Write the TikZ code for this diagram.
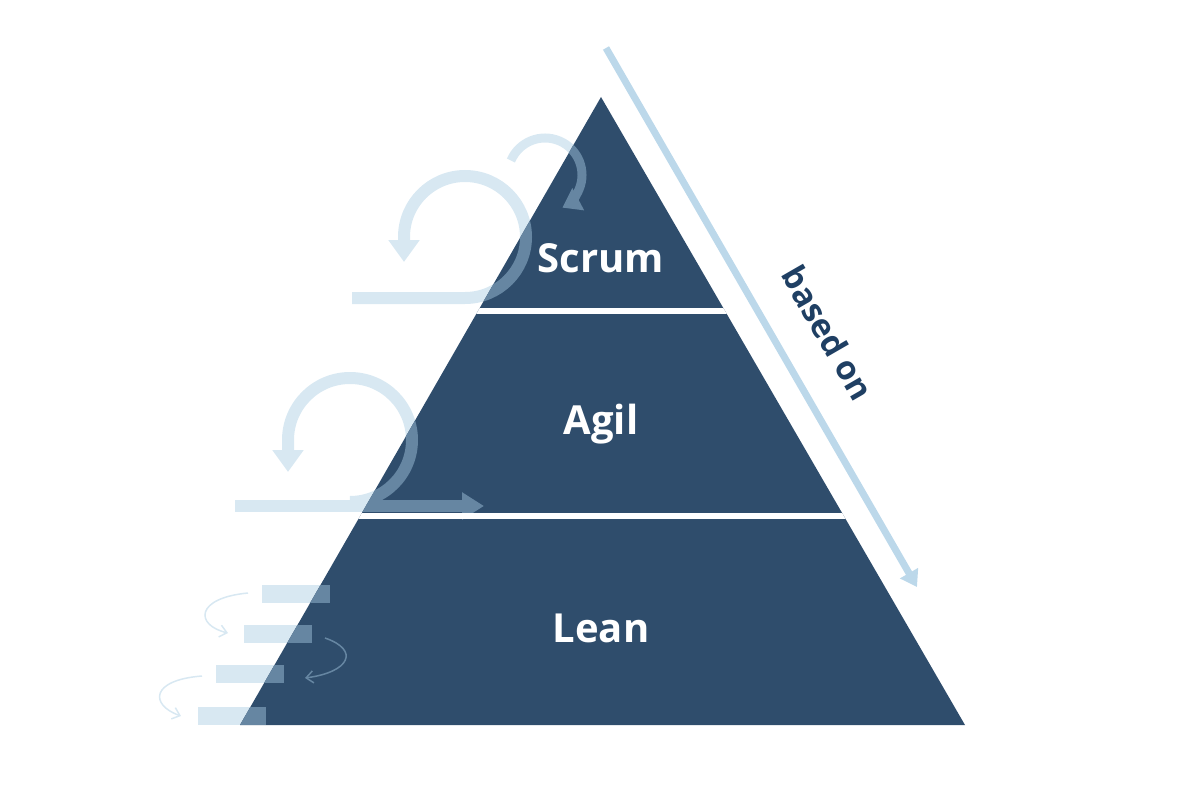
\documentclass[tikz,border=0pt]{standalone}
\usepackage{fontspec}
\setmainfont{Open Sans}
\usetikzlibrary{arrows.meta}
\definecolor{pyr}{HTML}{2F4D6C}
\definecolor{pale}{HTML}{D8E8F2}
\definecolor{mid}{HTML}{6686A2}
\definecolor{basis}{HTML}{BCD8EA}
\definecolor{ink}{HTML}{1F3F63}
\tikzset{>=latex, line width=1.0pt}
\tikzset{
  level/.style={text=white,font=\bfseries\fontsize{40}{40}\selectfont},
  bigloop/.style={line width=12pt,-{Triangle[width=30pt,length=22pt]}},
  smallloop/.style={line width=9pt,-{Triangle[width=24pt,length=18pt]}},
  thin/.style={line width=1.5pt,-{Straight Barb[length=7pt,width=12pt]}}
}
% the light shapes left of the pyramid, drawn in colour #1
\newcommand{\cycles}[1]{%
  % scrum
  \draw[bigloop,#1] (352,298) -- (465,298) arc[start angle=90,end angle=-180,radius=61] -- (404,262);
  \draw[smallloop,#1] (545,175) ++(-157:37) arc[start angle=-157,end angle=62,radius=37];
  % agil
  \draw[bigloop,#1] (350,502) arc[start angle=90,end angle=-180,radius=62] -- (288,472);
  \draw[bigloop,-{Triangle[width=26pt,length=22pt]},#1] (235,506) -- (484,506);
  % lean
  \fill[#1] (262,585) rectangle (330,603);
  \fill[#1] (244,625) rectangle (312,643);
  \fill[#1] (216,665) rectangle (284,683);
  \fill[#1] (198,707) rectangle (266,725);
  \draw[thin,#1] (248,593) .. controls (195,598) and (195,625) .. (228,633);
  \draw[thin,#1] (325,638) .. controls (360,650) and (350,672) .. (305,678);
  \draw[thin,#1] (202,676) .. controls (150,680) and (150,705) .. (181,716);
}
\begin{document}
\begin{tikzpicture}[x=1pt,y=-1pt]
  \useasboundingbox (0,0) rectangle (1200,800);

  % based on
  \draw[line width=7pt,basis,-{Triangle[width=20pt,length=16pt]}] (606,48) -- (917,587);
  \node[text=ink,font=\bfseries\fontsize{33}{33}\selectfont,rotate=-60] (base) at (828,333) {based on};

  \cycles{pale}

  % pyramid
  \fill[pyr] (601,97) -- (965,725) -- (240,725) -- cycle;
  \begin{scope}
    \clip (601,97) -- (965,725) -- (240,725) -- cycle;
    \cycles{mid}
    \draw[white,line width=6pt] (440,311) -- (760,311);
    \draw[white,line width=6pt] (300,516) -- (900,516);
  \end{scope}

  \node[level] (scrum) at (601,258) {Scrum};
  \node[level] (agil) at (601,424) {Agil};
  \node[level] (lean) at (601,628) {Lean};
\end{tikzpicture}
\end{document}
